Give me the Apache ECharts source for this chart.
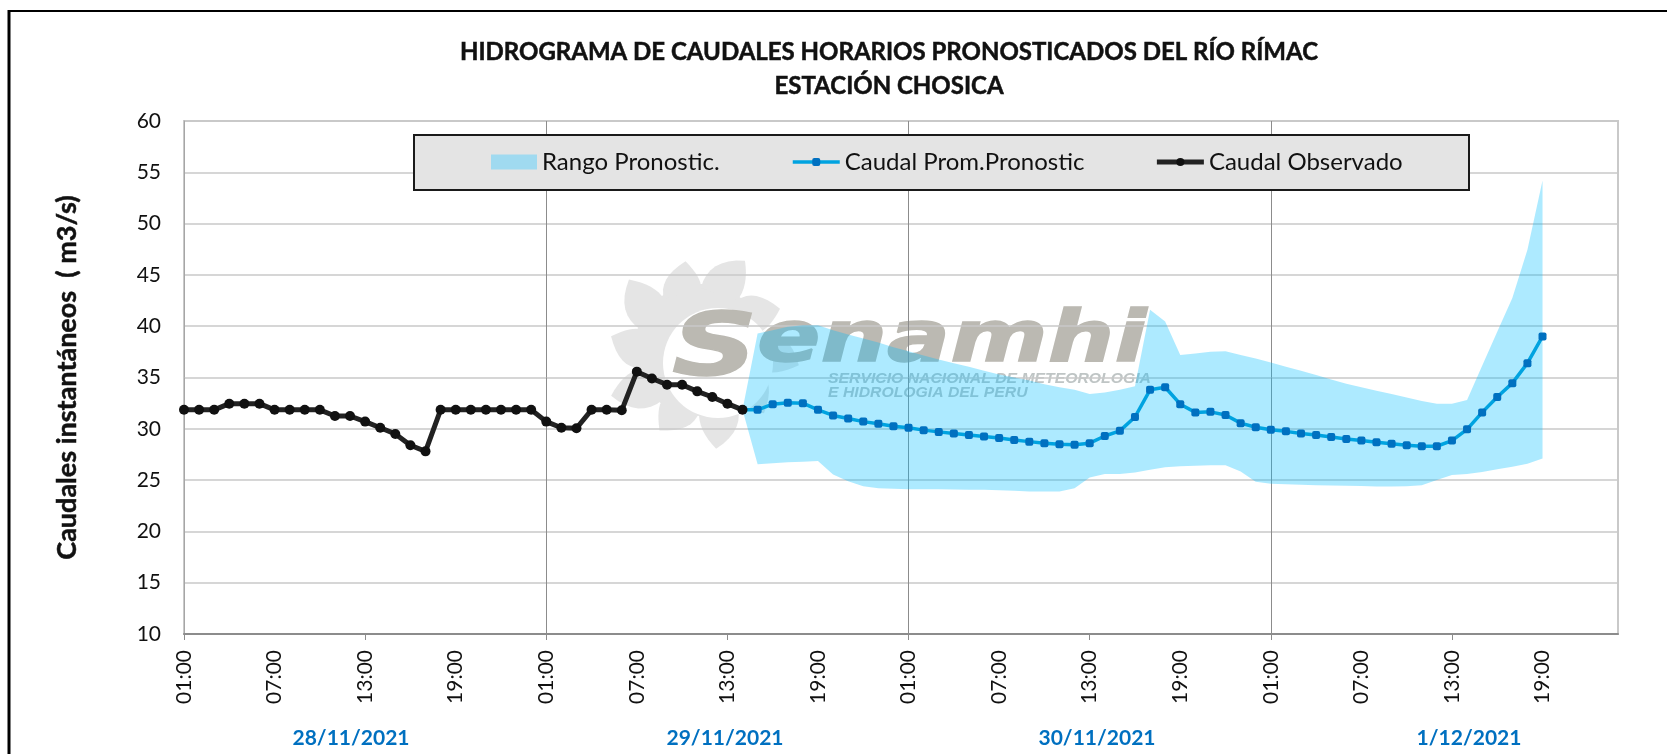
<!DOCTYPE html>
<html>
<head>
<meta charset="utf-8">
<title>Hidrograma Chosica</title>
<script src="https://cdn.jsdelivr.net/npm/echarts@6/dist/echarts.min.js"></script>
<style>
  html, body { margin: 0; padding: 0; background: #fff; }
  #main { width: 1667px; height: 754px; }
</style>
</head>
<body>
<div id="main"></div>
<script>
const hours = ['01:00','02:00','03:00','04:00','05:00','06:00','07:00','08:00','09:00','10:00','11:00','12:00',
  '13:00','14:00','15:00','16:00','17:00','18:00','19:00','20:00','21:00','22:00','23:00','00:00'];
const categories = hours.concat(hours, hours, hours);
const dateLabels = ['28/11/2021', '29/11/2021', '30/11/2021', '1/12/2021'];

// caudal observado, desde el indice 0
const observed = [31.85,31.85,31.85,32.45,32.45,32.45,31.85,31.85,31.85,31.85,31.25,31.25,
  30.7,30.1,29.5,28.4,27.8,31.85,31.85,31.85,31.85,31.85,31.85,31.85,
  30.7,30.1,30.05,31.85,31.85,31.8,35.57,34.9,34.3,34.3,33.65,33.1,32.45,31.85];

// pronostico, desde el indice 37
const forecast = [31.85,31.85,32.4,32.55,32.5,31.85,31.3,31.0,30.7,30.5,30.25,30.1,
  29.87,29.7,29.55,29.4,29.25,29.1,28.9,28.75,28.6,28.5,28.45,28.6,29.3,29.8,31.15,33.8,34.05,
  32.4,31.6,31.65,31.35,30.55,30.15,29.9,29.75,29.55,29.4,29.2,29.0,28.85,28.7,28.55,28.4,28.3,28.3,
  28.85,29.95,31.6,33.1,34.45,36.4,39.0];
const bandLower = [31.85,26.55,26.65,26.75,26.8,26.85,25.55,24.9,24.4,24.2,24.15,24.1,
  24.1,24.1,24.08,24.06,24.05,24.0,23.95,23.9,23.88,23.88,24.2,25.25,25.6,25.6,25.75,26.0,26.25,
  26.35,26.4,26.45,26.45,25.85,24.85,24.65,24.6,24.55,24.5,24.47,24.45,24.42,24.38,24.38,24.4,24.5,25.0,
  25.5,25.6,25.8,26.05,26.3,26.6,27.1];
const bandUpper = [31.85,39.3,39.6,39.95,40.1,40.1,39.6,39.2,38.8,38.4,37.95,37.55,
  37.15,36.75,36.4,36.05,35.65,35.3,35.0,34.7,34.35,34.05,33.8,33.4,33.55,33.8,34.15,41.6,40.45,
  37.2,37.35,37.5,37.55,37.2,36.85,36.45,36.05,35.65,35.25,34.8,34.4,34.05,33.7,33.4,33.05,32.7,32.45,
  32.45,32.8,36.15,39.45,42.75,47.45,54.2];

const forecastStart = 37;
const pad = new Array(forecastStart).fill(null);
const dateLabelX = [351, 725, 1097, 1469];

// rayos del sol del logo de fondo, como poligonos
function sunRays(cx, cy, r, R, n) {
  const rays = [];
  const step = Math.PI * 2 / n;
  const at = (a, q) => [cx + Math.cos(a) * q, cy + Math.sin(a) * q];
  const curve = (p0, c, p1) => {
    const pts = [];
    for (let k = 0; k <= 8; k++) {
      const t = k / 8;
      pts.push([
        (1 - t) * (1 - t) * p0[0] + 2 * t * (1 - t) * c[0] + t * t * p1[0],
        (1 - t) * (1 - t) * p0[1] + 2 * t * (1 - t) * c[1] + t * t * p1[1]
      ]);
    }
    return pts;
  };
  for (let i = 0; i < n; i++) {
    const a0 = i * step - 0.3;
    const a1 = a0 + step;
    const tip = a0 + step * 0.72;
    const rr = R * (i % 2 ? 0.9 : 1);
    rays.push(curve(at(a0, r), at(a0 + step * 0.12, rr * 0.92), at(tip, rr))
      .concat(curve(at(tip, rr), at(a1 + step * 0.02, rr * 0.8), at(a1, r))));
  }
  return rays;
}

const chart = echarts.init(document.getElementById('main'));
const LATO = 'Lato';
const logoGray = '#BBB9B2';

chart.setOption({
  animation: false,
  backgroundColor: '#fff',
  title: {
    text: 'HIDROGRAMA DE CAUDALES HORARIOS PRONOSTICADOS DEL RÍO RÍMAC\nESTACIÓN CHOSICA',
    left: 884,
    top: 30,
    textAlign: 'center',
    textStyle: { fontFamily: LATO, fontWeight: 'bold', fontSize: 24, lineHeight: 34, color: '#111',
      textBorderColor: '#111', textBorderWidth: 0.5 }
  },
  grid: { left: 184, right: 49, top: 121, bottom: 120, show: true, borderColor: '#C9C9C9', borderWidth: 2 },
  legend: [
    {
      left: 491, top: 149, padding: 0, itemWidth: 46, itemHeight: 15, selectedMode: false,
      textStyle: { fontFamily: LATO, fontSize: 24, lineHeight: 26, color: '#111' },
      data: [{ name: 'Rango Pronostic.', icon: 'rect', itemStyle: { color: '#A0DAF0', opacity: 1 } }]
    },
    {
      left: 791, top: 149, padding: 0, itemWidth: 47, itemHeight: 10, itemGap: 70, selectedMode: false,
      textStyle: { fontFamily: LATO, fontSize: 24, lineHeight: 26, color: '#111' },
      data: [
        { name: 'Caudal Prom.Pronostic', lineStyle: { width: 3.5 } },
        { name: 'Caudal Observado', lineStyle: { width: 5 } }
      ]
    }
  ],
  xAxis: {
    type: 'category',
    data: categories,
    boundaryGap: false,
    axisLine: { lineStyle: { color: '#8C8C8C', width: 2 } },
    axisTick: { interval: 11, length: 6, lineStyle: { color: '#8C8C8C' } },
    axisLabel: { interval: 5, rotate: 90, margin: 16, fontFamily: LATO, fontSize: 21, color: '#111' },
    splitLine: {
      show: true,
      interval: (i) => i > 0 && i % 24 === 0,
      lineStyle: { color: '#8C8C8C', width: 1 }
    }
  },
  yAxis: {
    type: 'value',
    min: 10,
    max: 60,
    interval: 5,
    name: 'Caudales instantáneos  ( m3/s)',
    nameLocation: 'middle',
    nameGap: 103,
    nameTextStyle: { fontFamily: LATO, fontWeight: 'bold', fontSize: 27, color: '#111',
      textBorderColor: '#111', textBorderWidth: 0.5 },
    axisLine: { show: true, lineStyle: { color: '#A6A6A6', width: 1 } },
    axisTick: { show: false },
    axisLabel: { margin: 23, fontFamily: LATO, fontSize: 21, color: '#111' },
    splitLine: { lineStyle: { color: '#C8C8C8', width: 1.5 } }
  },
  series: [
    {
      name: 'base',
      type: 'line',
      stack: 'rango',
      data: pad.concat(bandLower),
      symbol: 'none',
      lineStyle: { width: 0 },
      areaStyle: { opacity: 0 },
      silent: true
    },
    {
      name: 'Rango Pronostic.',
      type: 'line',
      stack: 'rango',
      data: pad.concat(bandUpper.map((v, i) => +(v - bandLower[i]).toFixed(2))),
      symbol: 'none',
      lineStyle: { width: 0 },
      itemStyle: { color: '#A0DAF0' },
      areaStyle: { color: 'rgba(0,190,255,0.32)', opacity: 1 },
      silent: true
    },
    {
      name: 'Caudal Prom.Pronostic',
      type: 'line',
      data: pad.concat(forecast),
      symbol: 'roundRect',
      symbolSize: 8,
      showAllSymbol: true,
      lineStyle: { color: '#00A3E0', width: 3.5 },
      itemStyle: { color: '#0070C0' }
    },
    {
      name: 'Caudal Observado',
      type: 'line',
      data: observed,
      symbol: 'circle',
      symbolSize: 10,
      showAllSymbol: true,
      lineStyle: { color: '#222222', width: 5 },
      itemStyle: { color: '#111111' }
    }
  ],
  graphic: [
    // marco exterior
    { type: 'line', shape: { x1: 9, y1: 11, x2: 1667, y2: 11 }, style: { stroke: '#000', lineWidth: 2 }, silent: true },
    { type: 'line', shape: { x1: 9, y1: 10, x2: 9, y2: 754 }, style: { stroke: '#000', lineWidth: 3 }, silent: true },
    // caja de la leyenda
    { type: 'rect', z: 3, shape: { x: 414, y: 135, width: 1055, height: 55 },
      style: { fill: '#E4E4E4', stroke: '#1A1A1A', lineWidth: 2 }, silent: true },
    // logo de fondo
    { type: 'circle', z: -10, shape: { cx: 700, cy: 350, r: 66 }, style: { fill: '#E5E5E5' }, silent: true },
    { type: 'circle', z: -9, shape: { cx: 718, cy: 363, r: 55 }, style: { fill: '#fff' }, silent: true },
    { type: 'text', z: -8, x: 672, y: 396, scaleX: 1.35, silent: true,
      style: { text: 'S', fontFamily: 'DejaVu Sans', fontWeight: 'bold', fontStyle: 'italic', fontSize: 88,
        fill: logoGray, stroke: logoGray, lineWidth: 1.5, verticalAlign: 'bottom' } },
    { type: 'text', z: -8, x: 757, y: 378, scaleX: 1.3, silent: true,
      style: { text: 'enamhi', fontFamily: 'DejaVu Sans', fontWeight: 'bold', fontStyle: 'italic', fontSize: 72,
        fill: logoGray, stroke: logoGray, lineWidth: 1.5, verticalAlign: 'bottom' } },
    { type: 'text', z: -8, x: 828, y: 371, scaleX: 1.05, silent: true,
      style: { text: 'SERVICIO NACIONAL DE METEOROLOGIA', fontFamily: 'Liberation Sans', fontWeight: 'bold',
        fontStyle: 'italic', fontSize: 15, fill: '#BFC5C5' } },
    { type: 'text', z: -8, x: 828, y: 385, scaleX: 1.05, silent: true,
      style: { text: 'E HIDROLOGIA DEL PERU', fontFamily: 'Liberation Sans', fontWeight: 'bold',
        fontStyle: 'italic', fontSize: 15, fill: '#BFC5C5' } }
  ].concat(sunRays(700, 350, 62, 100, 10).map((pts) => ({
    type: 'polygon', z: -10, shape: { points: pts }, style: { fill: '#E5E5E5' }, silent: true
  }))).concat(dateLabels.map((t, i) => ({
    type: 'text', x: dateLabelX[i], y: 738, silent: true,
    style: { text: t, fontFamily: LATO, fontWeight: 'bold', fontSize: 21, fill: '#0070C0',
      align: 'center', verticalAlign: 'middle' }
  })))
});

window.addEventListener('resize', () => chart.resize());
</script>
</body>
</html>
